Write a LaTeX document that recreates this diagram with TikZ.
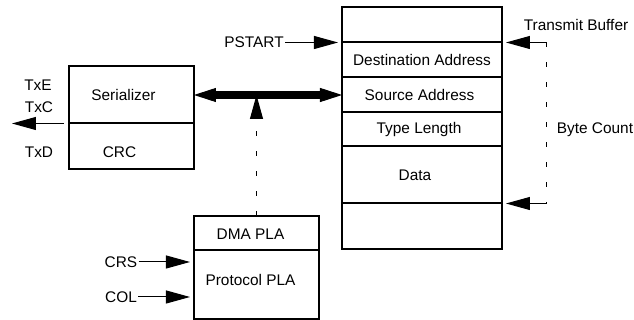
\documentclass[tikz,border=0pt]{standalone}
\usepackage{fontspec}
\setmainfont{Liberation Sans}
\usetikzlibrary{positioning,arrows.meta}

\begin{document}
\begin{tikzpicture}[x=0.5pt,y=-0.5pt,font=\fontsize{7.7}{9}\selectfont,
   box/.style n args={2}{draw,line width=1pt,inner sep=0pt,outer sep=0pt,
      minimum width=#1,minimum height=#2},
   lbl/.style={inner sep=0.5pt},
   arr/.style={-{Triangle[length=12pt,width=6.5pt]},line width=0.5pt},
   dots/.style={line width=0.5pt,dash pattern=on 2.5pt off 7.5pt},
   bus/.style={{Triangle[length=11pt,width=7pt,line width=0.5pt]}-{Triangle[length=11pt,width=7pt,line width=0.5pt]},line width=4pt}]
         \useasboundingbox (0,0) rectangle (634,320) ;
         % serializer
         \node[box={62.5pt}{28.5pt},label={[xshift=-4pt]center:Serializer}] (ser) at (131.5,95) {} ;
         \node[box={62.5pt}{23pt},below=0pt of ser,
            label={[xshift=-6pt,yshift=-2.75pt]center:CRC}] (crc) {} ;
         \node (txe) at (38,85) {TxE} ;
         \node (txc) at (39,107) {TxC} ;
         \node (txd) at (39,152) {TxD} ;
         \coordinate (txout) at ([xshift=-28.5pt]crc.north west) ;
         \draw[arr,shorten <=2.5pt] (crc.north west) -- (txout) ;
         % transmit buffer
         \node[box={80pt}{17.5pt}] (top) at (422,25) {} ;
         \node[box={80pt}{17.5pt},below=0pt of top] (dest) {Destination Address} ;
         \node[box={80pt}{17.5pt},below=0pt of dest,
            label={[xshift=-1.25pt]center:Source Address}] (src) {} ;
         \node[box={80pt}{17pt},below=0pt of src,
            label={[xshift=-1.5pt]center:Type Length}] (type) {} ;
         \node[box={80pt}{28.5pt},below=0pt of type,
            label={[xshift=-3.5pt]center:Data}] (data) {} ;
         \node[box={80pt}{23pt},below=0pt of data] (last) {} ;
         \node[lbl] (pstart) at (254,42.5) {PSTART} ;
         \draw[arr,shorten >=2pt] (pstart.east) -- (dest.north west) ;
         \node (trans) at (576,25) {Transmit Buffer} ;
         \node (count) at (595,130) {Byte Count} ;
         \coordinate (bufhi) at ([xshift=22.5pt]dest.north east) ;
         \coordinate (buflo) at ([xshift=22.5pt]last.north east) ;
         \draw[dots] (bufhi) -- (buflo) ;
         \draw[arr,shorten >=2pt] (bufhi) -- (dest.north east) ;
         \draw[arr,shorten >=2pt] (buflo) -- (last.north east) ;
         % PLAs
         \node[box={62.5pt}{17pt},label={[xshift=-3pt,yshift=-0.5pt]center:DMA PLA}] (dma) at (256.5,233) {} ;
         \node[box={62.5pt}{34.5pt},below=0pt of dma,
            label={[xshift=-3pt,yshift=2.25pt]center:Protocol PLA}] (proto) {} ;
         \node[lbl] (crs) at (121,262) {CRS} ;
         \node[lbl] (col) at (121,297) {COL} ;
         \draw[arr,shorten >=2pt] (crs.east) -- (crs.east -| proto.west) ;
         \draw[arr,shorten >=2pt] (col.east) -- (col.east -| proto.west) ;
         % bus
         \draw[arr,dots] (dma.north) -- (dma.north |- ser.east) ;
         \draw[bus] (ser.east) -- (src.west) ;
      \end{tikzpicture}
\end{document}
